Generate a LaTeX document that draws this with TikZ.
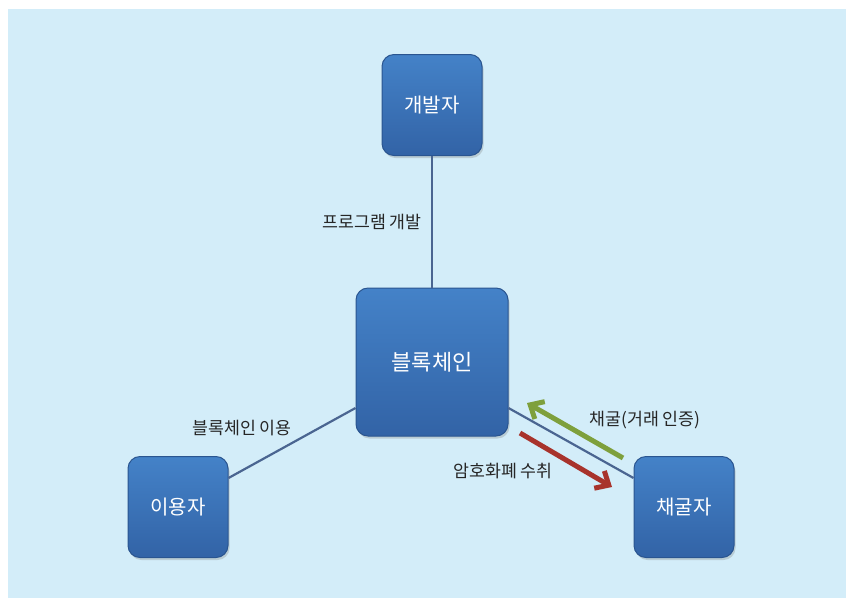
\documentclass[tikz,border=0pt]{standalone}
\usepackage{fontspec}
\newfontfamily\kr{Noto Sans CJK KR}
\usetikzlibrary{shadows,arrows.meta}
\definecolor{bg}{HTML}{D3EDF9}
\definecolor{boxtop}{HTML}{4482C8}
\definecolor{boxbot}{HTML}{3263A6}
\definecolor{boxedge}{HTML}{2A5590}
\definecolor{conn}{HTML}{4A6591}
\definecolor{grn}{HTML}{7EA03C}
\definecolor{rd}{HTML}{A8332C}
\tikzset{
  blk/.style={rounded corners=12pt, draw=boxedge, line width=1pt,
    top color=boxtop, bottom color=boxbot, text=white,
    font=\kr\fontsize{20}{23}\selectfont, inner sep=0pt,
    drop shadow={shadow xshift=1.5pt, shadow yshift=-2.5pt, opacity=0.3}},
  small/.style={blk, minimum width=100pt, minimum height=101pt},
  big/.style={blk, minimum width=152pt, minimum height=148pt, font=\kr\fontsize{22}{25}\selectfont},
  conline/.style={draw=conn, line width=2.2pt},
  lbl/.style={font=\kr\fontsize{17.3}{20}\selectfont, text=black!85, inner sep=0pt},
  flow/.style={line width=5pt, -{Straight Barb[length=11pt, width=20pt, line width=5pt]}}
}
\begin{document}
\begin{tikzpicture}[x=1pt, y=-1pt]
\useasboundingbox (0,0) rectangle (846,598);
\fill[white] (0,0) rectangle (846,598);
\fill[bg] (8,9) rectangle (846,598);
\node[big] (bc) at (432,362) {블록체인};
\node[small] (dev) at (432,105) {개발자};
\node[small] (user) at (178,507) {이용자};
\node[small] (miner) at (684,507) {채굴자};
\draw[conline] (dev.south) -- (bc.north);
\draw[conline] (user.east |- 0,478) coordinate (u1) -- (bc.west |- 0,408) coordinate (b1);
\draw[conline] (bc.east |- 0,408) coordinate (b2) -- (miner.west |- 0,478) coordinate (m1);
\coordinate (gs) at (623,458);
\coordinate (ge) at (527,403);
\coordinate (rs) at (520,433);
\coordinate (re) at (612,487);
\draw[flow, grn] (gs) -- (ge);
\draw[flow, rd] (rs) -- (re);
\node[lbl, anchor=east] (l1) at (422,222) {프로그램 개발};
\node[lbl] (l2) at (242,428) {블록체인 이용};
\node[lbl] (l3) at (645,420) {채굴(거래 인증)};
\node[lbl] (l4) at (503,471) {암호화폐 수취};
\end{tikzpicture}
\end{document}
